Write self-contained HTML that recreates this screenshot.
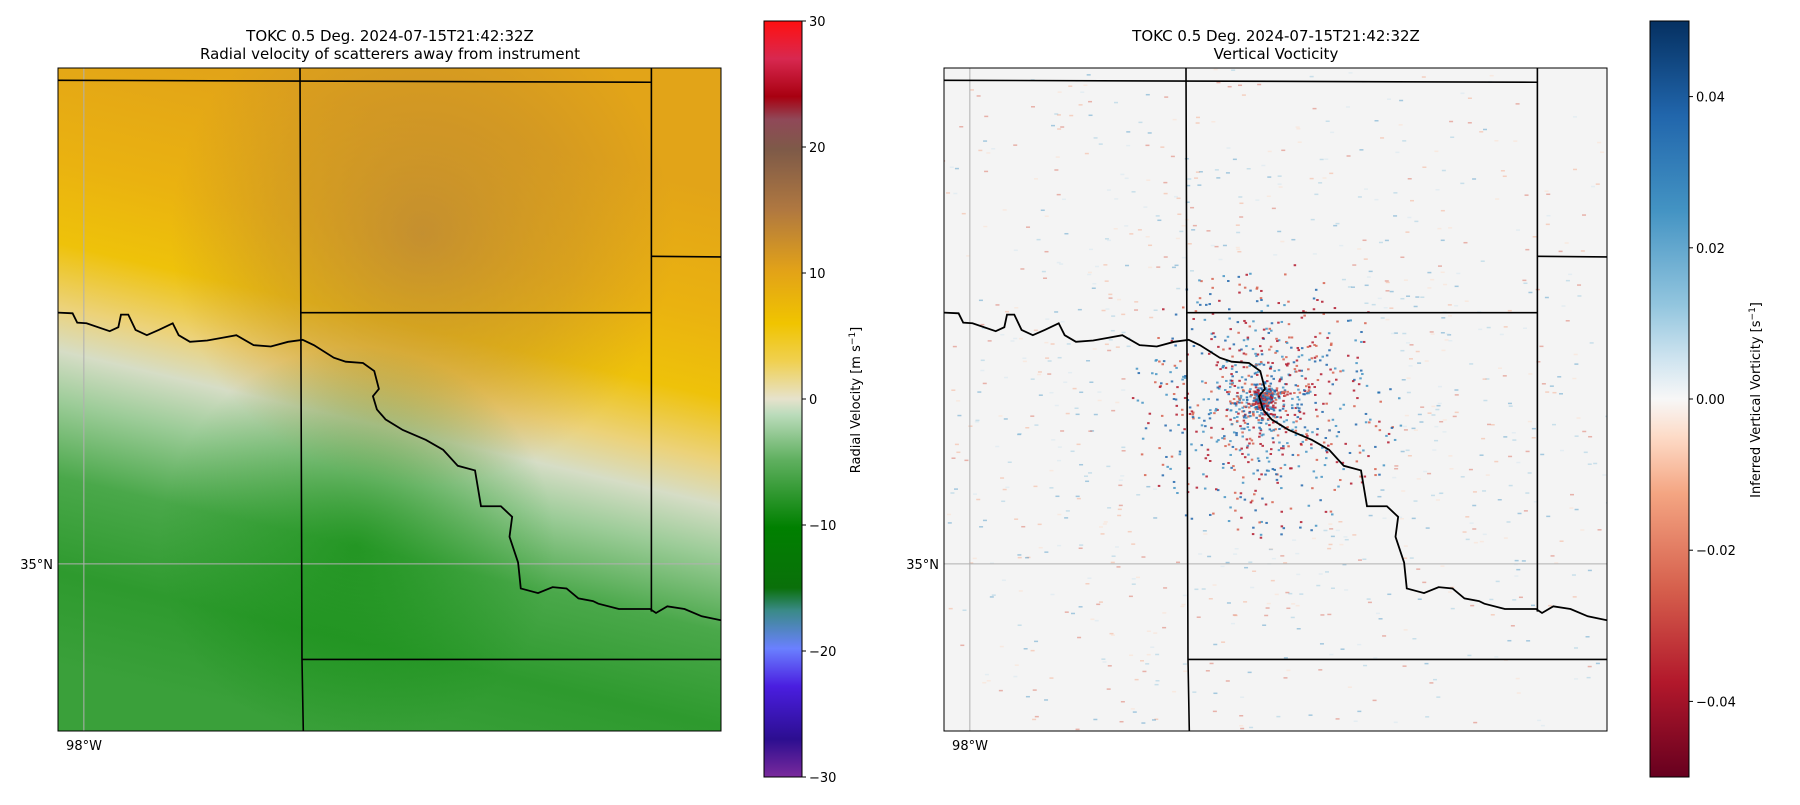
<!DOCTYPE html>
<html><head><meta charset="utf-8">
<style>
body{margin:0;background:#fff;}
svg text{font-family:"DejaVu Sans","Liberation Sans",sans-serif;fill:#000;}
</style></head>
<body>
<svg id="fig" width="1800" height="800" viewBox="0 0 1800 800" xmlns="http://www.w3.org/2000/svg">
<defs>
  <linearGradient id="velField" gradientUnits="userSpaceOnUse" x1="425" y1="120" x2="285" y2="720">
    <stop offset="0" stop-color="#e2a418"/>
    <stop offset="0.2" stop-color="#eab210"/>
    <stop offset="0.33" stop-color="#eec20a"/>
    <stop offset="0.43" stop-color="#ecd27a"/>
    <stop offset="0.5" stop-color="#d6ddc6"/>
    <stop offset="0.58" stop-color="#9ccc98"/>
    <stop offset="0.7" stop-color="#4aa84a"/>
    <stop offset="0.85" stop-color="#2e9a2e"/>
    <stop offset="1" stop-color="#3aa03a"/>
  </linearGradient>
  <radialGradient id="brownTop" cx="0.55" cy="0.25" r="0.38">
    <stop offset="0" stop-color="#b8843a" stop-opacity="0.75"/>
    <stop offset="0.6" stop-color="#c08a30" stop-opacity="0.4"/>
    <stop offset="1" stop-color="#c08a30" stop-opacity="0"/>
  </radialGradient>
  <radialGradient id="greenCore" cx="0.45" cy="0.72" r="0.3">
    <stop offset="0" stop-color="#0a8a0a" stop-opacity="0.6"/>
    <stop offset="1" stop-color="#0a8a0a" stop-opacity="0"/>
  </radialGradient>
  <linearGradient id="velCbar" x1="0" y1="1" x2="0" y2="0">
    <stop offset="0" stop-color="#7a2a9c"/>
    <stop offset="0.05" stop-color="#2c0e90"/>
    <stop offset="0.12" stop-color="#4a1ee0"/>
    <stop offset="0.17" stop-color="#6a80ff"/>
    <stop offset="0.22" stop-color="#3a8a88"/>
    <stop offset="0.25" stop-color="#0a700a"/>
    <stop offset="0.33" stop-color="#008000"/>
    <stop offset="0.42" stop-color="#60b060"/>
    <stop offset="0.48" stop-color="#bcdcbc"/>
    <stop offset="0.5" stop-color="#e6e2cc"/>
    <stop offset="0.55" stop-color="#f0d050"/>
    <stop offset="0.6" stop-color="#f0c400"/>
    <stop offset="0.67" stop-color="#e2a218"/>
    <stop offset="0.75" stop-color="#b07840"/>
    <stop offset="0.83" stop-color="#7e5a48"/>
    <stop offset="0.87" stop-color="#904858"/>
    <stop offset="0.9" stop-color="#a80010"/>
    <stop offset="0.95" stop-color="#d82850"/>
    <stop offset="1" stop-color="#ff1010"/>
  </linearGradient>
  <linearGradient id="vortCbar" x1="0" y1="1" x2="0" y2="0">
    <stop offset="0" stop-color="#67001f"/>
    <stop offset="0.125" stop-color="#b2182b"/>
    <stop offset="0.25" stop-color="#d6604d"/>
    <stop offset="0.375" stop-color="#f4a582"/>
    <stop offset="0.45" stop-color="#fddbc7"/>
    <stop offset="0.5" stop-color="#f7f7f7"/>
    <stop offset="0.55" stop-color="#d1e5f0"/>
    <stop offset="0.625" stop-color="#92c5de"/>
    <stop offset="0.75" stop-color="#4393c3"/>
    <stop offset="0.875" stop-color="#2166ac"/>
    <stop offset="1" stop-color="#053061"/>
  </linearGradient>
  <clipPath id="clipL"><rect x="58" y="68" width="663" height="663"/></clipPath>
  <clipPath id="clipR"><rect x="944" y="68" width="663" height="663"/></clipPath>
</defs>

<g>
  <text x="390" y="41" text-anchor="middle" font-size="15">TOKC 0.5 Deg. 2024-07-15T21:42:32Z</text>
  <text x="390" y="59" text-anchor="middle" font-size="15">Radial velocity of scatterers away from instrument</text>
  <g clip-path="url(#clipL)">
    <rect x="58" y="68" width="663" height="663" fill="url(#velField)"/>
    <rect x="58" y="68" width="663" height="663" fill="url(#brownTop)"/>
    <rect x="58" y="68" width="663" height="663" fill="url(#greenCore)"/>
    <g id="lineL"></g>
  </g>
  <rect x="58" y="68" width="663" height="663" fill="none" stroke="#000" stroke-width="1"/>
  <text x="53" y="569" text-anchor="end" font-size="13">35°N</text>
  <text x="84" y="750" text-anchor="middle" font-size="13">98°W</text>
  <g id="cbarL">
    <rect x="764" y="21" width="38" height="756" fill="url(#velCbar)" stroke="#000" stroke-width="1"/>
  </g>
  <text transform="translate(860,400) rotate(-90)" text-anchor="middle" font-size="13">Radial Velocity [m s<tspan font-size="9" dy="-5">−1</tspan><tspan dy="5">]</tspan></text>
</g>

<g>
  <text x="1276" y="41" text-anchor="middle" font-size="15">TOKC 0.5 Deg. 2024-07-15T21:42:32Z</text>
  <text x="1276" y="59" text-anchor="middle" font-size="15">Vertical Vocticity</text>
  <g clip-path="url(#clipR)">
    <rect x="944" y="68" width="663" height="663" fill="#f4f4f4"/>
    <g id="specks"></g>
    <g id="lineR"></g>
  </g>
  <rect x="944" y="68" width="663" height="663" fill="none" stroke="#000" stroke-width="1"/>
  <text x="939" y="569" text-anchor="end" font-size="13">35°N</text>
  <text x="970" y="750" text-anchor="middle" font-size="13">98°W</text>
  <g id="cbarR">
    <rect x="1650" y="21" width="39" height="756" fill="url(#vortCbar)" stroke="#000" stroke-width="1"/>
  </g>
  <text transform="translate(1760,400) rotate(-90)" text-anchor="middle" font-size="13">Inferred Vertical Vorticity [s<tspan font-size="9" dy="-5">−1</tspan><tspan dy="5">]</tspan></text>
</g>

<script>
const velTicks = [-30, -20, -10, 0, 10, 20, 30];
const velRange = [-30, 30];
const vortTicks = [-0.04, -0.02, 0.00, 0.02, 0.04];
const vortRange = [-0.05, 0.05];
const river = [[0,0.369],[0.022,0.370],[0.029,0.384],[0.043,0.385],[0.078,0.397],[0.091,0.391],[0.095,0.372],[0.106,0.372],[0.117,0.395],[0.134,0.403],[0.152,0.395],[0.173,0.385],[0.182,0.403],[0.199,0.413],[0.225,0.411],[0.247,0.407],[0.269,0.403],[0.295,0.418],[0.321,0.420],[0.347,0.413],[0.369,0.410],[0.386,0.418],[0.416,0.437],[0.434,0.443],[0.460,0.445],[0.477,0.457],[0.484,0.484],[0.475,0.495],[0.481,0.515],[0.494,0.530],[0.520,0.546],[0.555,0.561],[0.581,0.576],[0.603,0.600],[0.629,0.607],[0.638,0.661],[0.668,0.661],[0.685,0.677],[0.681,0.707],[0.694,0.746],[0.698,0.785],[0.724,0.792],[0.746,0.783],[0.767,0.785],[0.785,0.800],[0.807,0.804],[0.815,0.808],[0.846,0.816],[0.893,0.816],[0.902,0.822],[0.919,0.812],[0.945,0.816],[0.971,0.827],[1.0,0.833]];
const borders = [
  [[0,0.0185],[0.895,0.0215]],
  [[0.365,0],[0.368,0.892],[0.370,1]],
  [[0.365,0.369],[0.895,0.369]],
  [[0.895,0],[0.895,0.820]],
  [[0.895,0.284],[1,0.285]],
  [[0.368,0.892],[1,0.892]]
];
const gridV = [0.039];
const gridH = [0.748];

const NS = "http://www.w3.org/2000/svg";
function drawMap(gid, x0, y0, w, h){
  const g = document.getElementById(gid);
  const X = f => x0 + f*w, Y = f => y0 + f*h;
  gridV.forEach(f=>{
    const l=document.createElementNS(NS,'line');
    
    
    l.setAttribute('x1',X(f));l.setAttribute('x2',X(f));l.setAttribute('y1',y0);l.setAttribute('y2',y0+h);
    l.setAttribute('stroke','#b0b0b0');l.setAttribute('stroke-width','1');g.appendChild(l);
  });
  gridH.forEach(f=>{
    const l=document.createElementNS(NS,'line');
    
    
    l.setAttribute('y1',Y(f));l.setAttribute('y2',Y(f));l.setAttribute('x1',x0);l.setAttribute('x2',x0+w);
    l.setAttribute('stroke','#b0b0b0');l.setAttribute('stroke-width','1');g.appendChild(l);
  });
  borders.forEach(b=>{
    const p=document.createElementNS(NS,'polyline');
    
    
    p.setAttribute('points',b.map(q=>X(q[0])+','+Y(q[1])).join(' '));
    p.setAttribute('fill','none');p.setAttribute('stroke','#000');p.setAttribute('stroke-width','1.6');g.appendChild(p);
  });
  const r=document.createElementNS(NS,'polyline');
  
  
  r.setAttribute('points',river.map(q=>X(q[0])+','+Y(q[1])).join(' '));
  r.setAttribute('fill','none');r.setAttribute('stroke','#000');r.setAttribute('stroke-width','1.8');g.appendChild(r);
}
drawMap('lineL',58,68,663,663);
drawMap('lineR',944,68,663,663);

function drawTicks(gid, x, y0, y1, ticks, range, fmt){
  const g=document.getElementById(gid);
  const sy = v => y1 - (v-range[0])/(range[1]-range[0])*(y1-y0);
  ticks.forEach(v=>{
    const l=document.createElementNS(NS,'line');
    
    
    l.setAttribute('x1',x);l.setAttribute('x2',x+4);l.setAttribute('y1',sy(v));l.setAttribute('y2',sy(v));
    l.setAttribute('stroke','#000');g.appendChild(l);
    const t=document.createElementNS(NS,'text');
    
    
    t.setAttribute('x',x+7);t.setAttribute('y',sy(v)+5);t.setAttribute('font-size','13');
    t.textContent=fmt(v);g.appendChild(t);
  });
}
const minus = s => s.replace('-','\u2212');
drawTicks('cbarL',802,21,777,velTicks,velRange,v=>minus(String(v)));
drawTicks('cbarR',1689,21,777,vortTicks,vortRange,v=>minus(v.toFixed(2)));

// decorative speckle texture for vorticity field (deterministic)
(function(){
  const g=document.getElementById('specks');
  const cx=944+0.48*663, cy=68+0.5*663;
  let s=12345; const rnd=()=>{s=(s*1103515245+12345)%2147483648;return s/2147483648;};
  const cols=['#b2182b','#2166ac','#d6604d','#4393c3','#f4a582','#92c5de','#fddbc7','#d1e5f0'];
  for(let i=0;i<2200;i++){
    const r=Math.pow(rnd(),1.8)*430, a=rnd()*Math.PI*2;
    const x=cx+r*Math.cos(a), y=cy+r*Math.sin(a);
    const near=r<140;
    const c=near?cols[Math.floor(rnd()*4)]:cols[2+Math.floor(rnd()*6)];
    const e=document.createElementNS(NS,'rect');
    e.setAttribute('x',x);e.setAttribute('y',y);
    e.setAttribute('width',near?2.5:4);e.setAttribute('height',near?2:1.5);
    e.setAttribute('fill',c);e.setAttribute('opacity',near?0.85:0.45);
    g.appendChild(e);
  }
})();
</script>
</svg>
</body></html>
